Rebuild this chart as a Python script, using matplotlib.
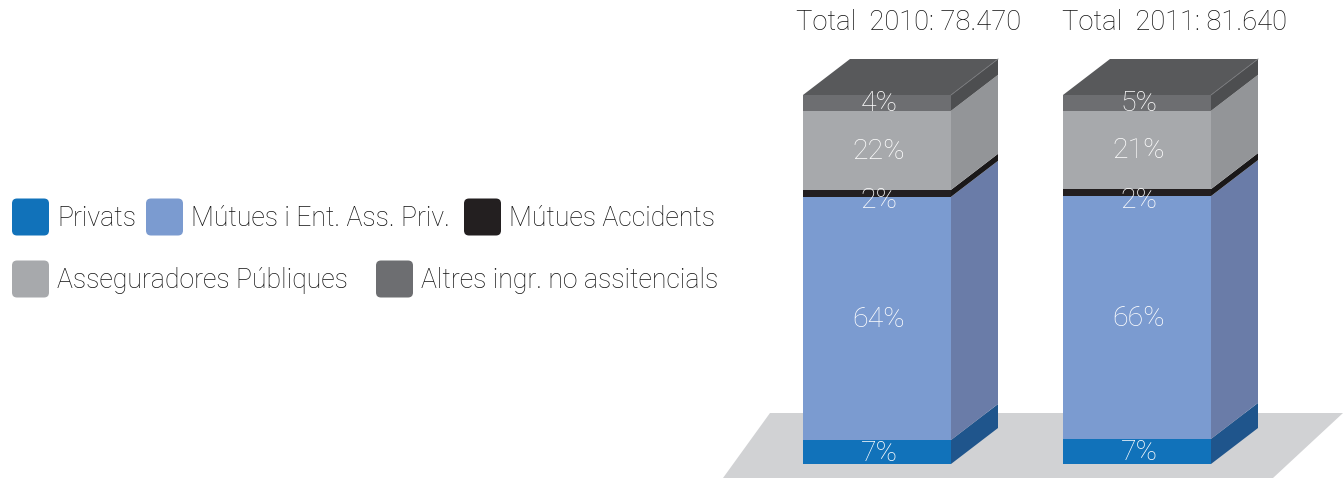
import numpy as np
import matplotlib
matplotlib.use("Agg")
import matplotlib.pyplot as plt
from matplotlib.patches import FancyBboxPatch, Polygon

plt.rcParams["font.family"] = ["Roboto", "DejaVu Sans"]
plt.rcParams["font.weight"] = "light"

# Data
years = ["2010", "2011"]
totals = ["78.470", "81.640"]
categories = ["Privats", "Mútues i Ent. Ass. Priv.", "Mútues Accidents",
              "Asseguradores Públiques", "Altres ingr. no assitencials"]
# share of each segment as drawn
drawn_2010 = [6.5, 65.9, 1.9, 21.4, 4.3]
drawn_2011 = [6.8, 65.8, 1.9, 21.2, 4.3]
# printed labels
labels_2010 = ["7%", "64%", "2%", "22%", "4%"]
labels_2011 = ["7%", "66%", "2%", "21%", "5%"]

front_colors = ["#1172BA", "#7B9BD0", "#231F20", "#A7A9AC", "#6D6E71"]
side_colors = ["#1F558C", "#6A7CA8", "#1A1819", "#939598", "#4D4E50"]
top_color = "#58595B"
floor_color = "#D1D2D4"
text_color = "#111111"

fig = plt.figure(figsize=(13.44, 4.78), dpi=100)
ax = fig.add_axes([0, 0, 1, 1])

# y axis is in percent of the bar: 0 sits at pixel 464, 100 at pixel 95
px = 3.69
ax.set_xlim(0, 1344)
ax.set_ylim(-14 / px, 100 + 95 / px)
ax.axis("off")

bar_x = [803, 1063]
bar_w = 148
dx = 47
dy = 36 / px

# floor
ax.add_patch(Polygon([(723, -14 / px), (770, 51 / px), (1343, 51 / px),
                      (1273, -14 / px)], closed=True, fc=floor_color, ec="none"))


def draw_bar(x, values, labels):
    bottom = 0
    for v, lab, fc, sc in zip(values, labels, front_colors, side_colors):
        ax.bar(x, v, width=bar_w, bottom=bottom, align="edge", color=fc, linewidth=0)
        ax.add_patch(Polygon([(x + bar_w, bottom), (x + bar_w + dx, bottom + dy),
                              (x + bar_w + dx, bottom + v + dy), (x + bar_w, bottom + v)],
                             closed=True, fc=sc, ec="none"))
        # the thin 2% label hangs below its band in the original
        shift = -6.5 / px if v < 3 else 0
        ax.text(x + bar_w / 2 + 2, bottom + v / 2 + shift - 1 / px, lab, color="white",
                fontsize=20.5, ha="center", va="center", zorder=5)
        bottom += v
    ax.add_patch(Polygon([(x, bottom), (x + dx, bottom + dy),
                          (x + bar_w + dx, bottom + dy), (x + bar_w, bottom)],
                         closed=True, fc=top_color, ec="none"))
    ax.plot([x + bar_w, x + bar_w + dx], [bottom, bottom + dy], color="#77787B", lw=0.6)


draw_bar(bar_x[0], drawn_2010, labels_2010)
draw_bar(bar_x[1], drawn_2011, labels_2011)

title_x = [908.5, 1175]
for x, y, t in zip(title_x, years, totals):
    ax.text(x, 100 + 72 / px, "Total  " + y + ": " + t, color=text_color,
            fontsize=19.7, ha="center", va="center")

# legend, placed by hand like the original
legend_box = [12, 146, 464, 12, 376]
legend_txt = [57, 191, 509, 57, 421]
legend_y = [217, 217, 217, 279, 279]
for b, t, py, name, c in zip(legend_box, legend_txt, legend_y, categories, front_colors):
    y = (464 - py) / px
    ax.add_patch(FancyBboxPatch((b + 5, y - 13.5 / px), 27, 27 / px,
                                boxstyle="round,pad=5,rounding_size=5",
                                mutation_aspect=1 / px, fc=c, ec="none"))
    ax.text(t, y - 1 / px, name, color=text_color, fontsize=19.15, ha="left", va="center")

fig.savefig("out.png", dpi=100)
